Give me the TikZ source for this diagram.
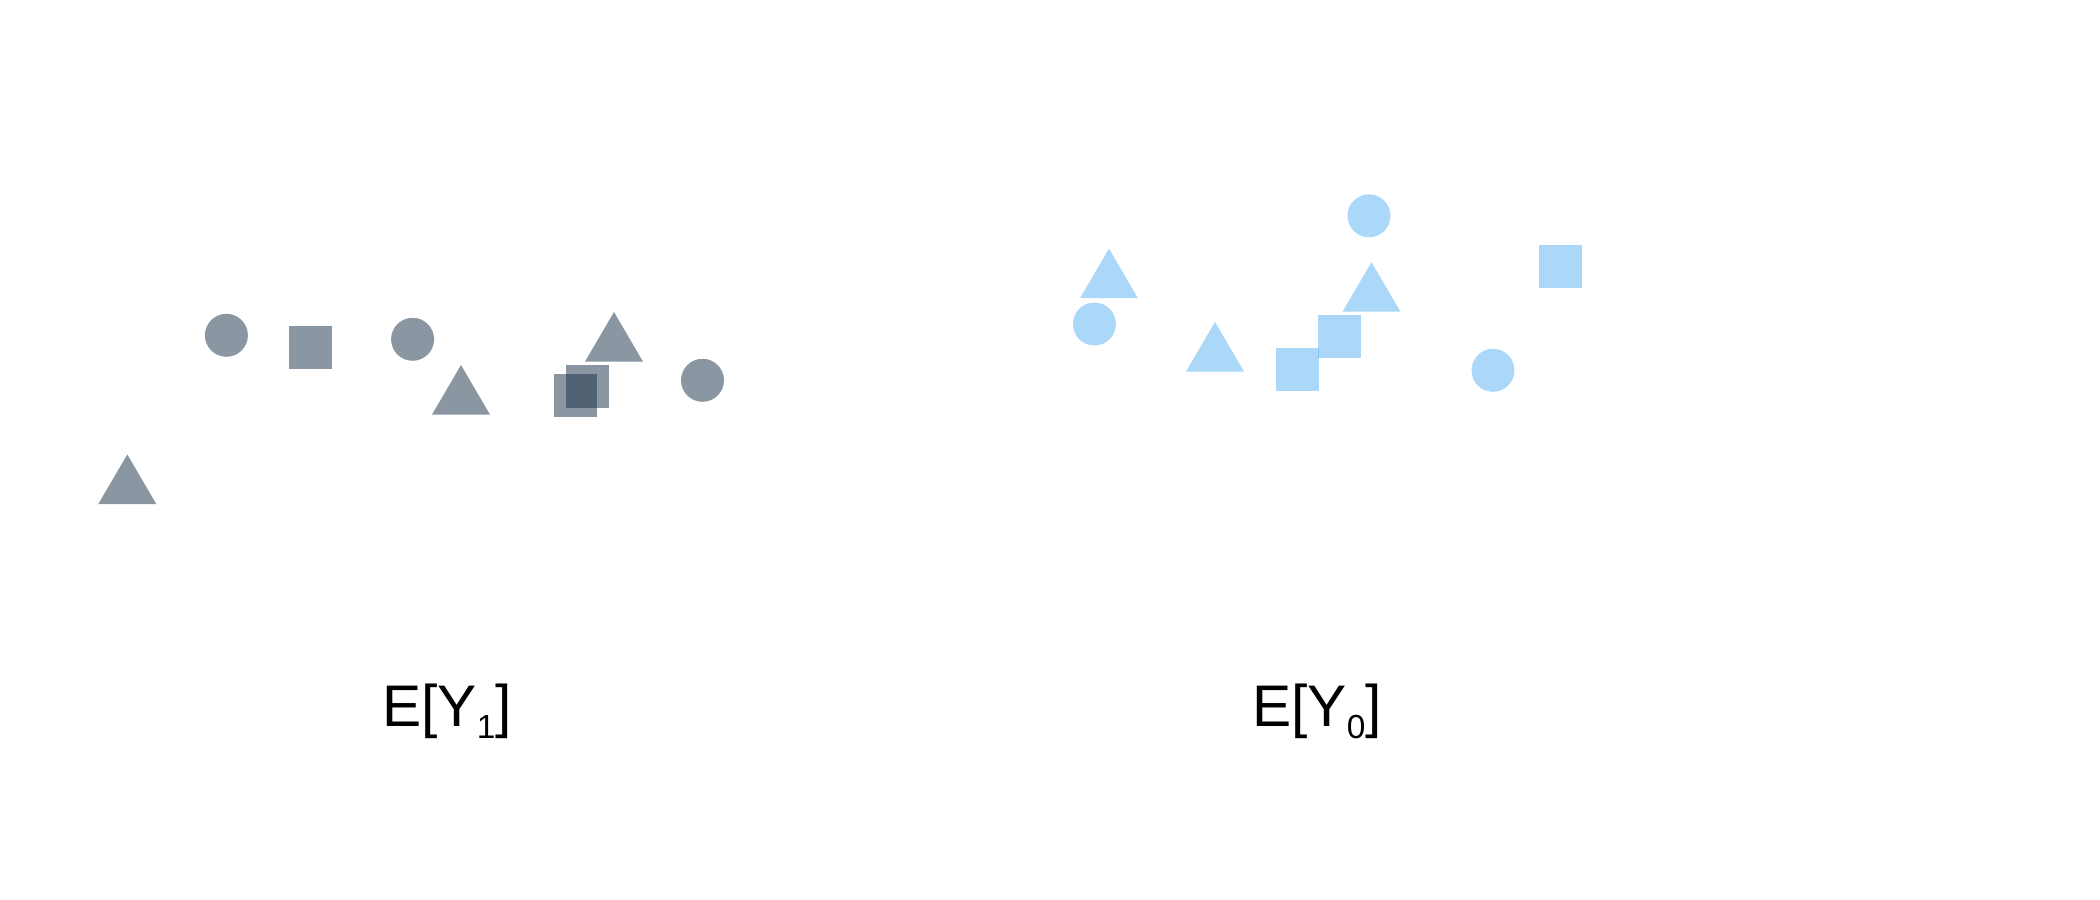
\documentclass[tikz,border=0pt]{standalone}
\usepackage{fontspec}
\setmainfont{Liberation Sans}
\usetikzlibrary{shapes.geometric, positioning}

\definecolor{slate}{RGB}{22,47,69}
\definecolor{sky}{RGB}{87,177,243}

\newcommand{\lowsub}[1]{\raisebox{-3.3pt}{\fontsize{9.5}{10}\selectfont #1}}

\begin{document}
\begin{tikzpicture}[
    treated/.style={fill=slate, fill opacity=0.5, draw=none, inner sep=0pt},
    control/.style={fill=sky, fill opacity=0.5, draw=none, inner sep=0pt},
    dot/.style={circle, minimum size=0.43cm},
    box/.style={rectangle, minimum width=0.43cm, minimum height=0.43cm},
    pics/tri/.style={code={
        \fill (-0.29,-0.248) -- (0.29,-0.248) -- (0,0.248) -- cycle;
    }},
    label/.style={anchor=base, font=\fontsize{16.7}{20}\selectfont}
]
    \useasboundingbox (0,0) rectangle (21,-9);

    % treated group
    \node[treated, dot] (t1) at (2.264,-3.353) {};
    \node[treated, box] (t2) at (3.103,-3.473) {};
    \node[treated, dot] (t3) at (4.126,-3.393) {};
    \pic[treated] (t4) at (4.61,-3.898) {tri};
    \pic[treated] (t5) at (6.14,-3.368) {tri};
    \node[treated, box] (t6) at (5.758,-3.955) {};
    \node[treated, box] (t7) at (5.876,-3.865) {};
    \node[treated, dot] (t8) at (7.025,-3.803) {};
    \pic[treated] (t9) at (1.273,-4.792) {tri};

    % control group
    \node[control, dot] (c1) at (13.69,-2.158) {};
    \node[control, box] (c2) at (15.605,-2.665) {};
    \pic[control] (c3) at (11.09,-2.734) {tri};
    \pic[control] (c4) at (13.715,-2.869) {tri};
    \node[control, dot] (c5) at (10.944,-3.24) {};
    \pic[control] (c6) at (12.15,-3.467) {tri};
    \node[control, box] (c7) at (12.976,-3.694) {};
    \node[control, box] (c8) at (13.391,-3.369) {};
    \node[control, dot] (c9) at (14.93,-3.703) {};

    % labels
    \node[label] (ey1) at (4.47,-7.267) {E[Y\lowsub{1}]};
    \node[label] (ey0) at (13.17,-7.267) {E[Y\lowsub{0}]};
\end{tikzpicture}
\end{document}
